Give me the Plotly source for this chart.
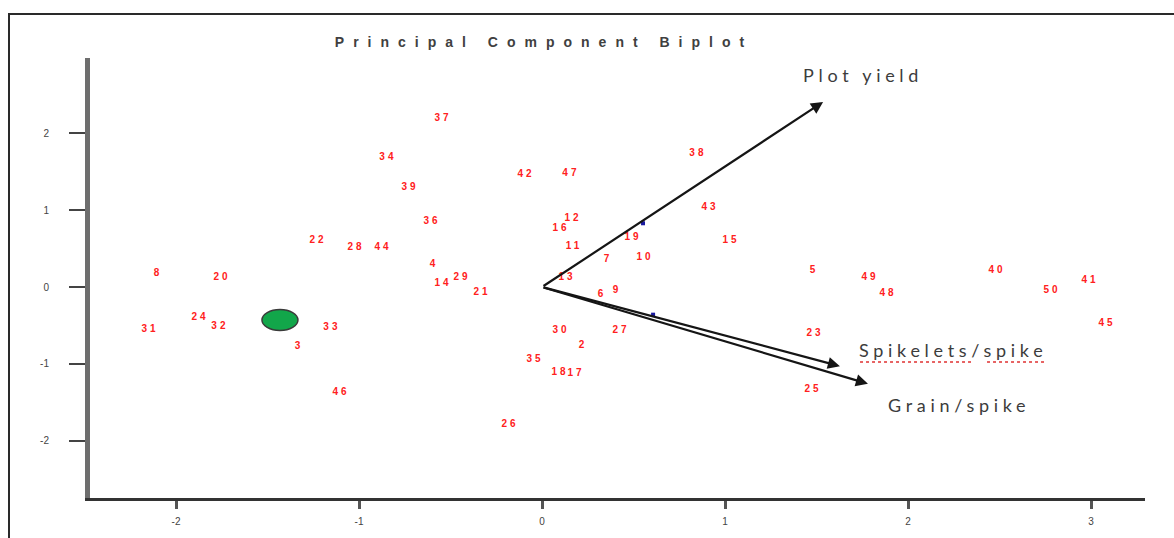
import plotly.graph_objects as go

# ---------------- data ----------------
obs_labels = ["37", "34", "39", "36", "42", "47", "38", "43", "12", "16",
              "11", "19", "15", "7", "10", "4", "29", "14", "21", "13",
              "9", "6", "30", "27", "2", "35", "18", "17", "26", "8",
              "20", "24", "32", "31", "33", "3", "46", "22", "28", "44",
              "5", "49", "40", "41", "48", "50", "45", "23", "25"]
obs_pc1 = [-0.541, -0.842, -0.721, -0.601, -0.087, 0.158, 0.852, 0.918, 0.169, 0.104,
           0.175, 0.497, 1.033, 0.361, 0.563, -0.590, -0.437, -0.541, -0.328, 0.137,
           0.410, 0.328, 0.104, 0.432, 0.224, -0.038, 0.098, 0.186, -0.175, -2.098,
           -1.749, -1.869, -1.760, -2.142, -1.148, -1.328, -1.098, -1.224, -1.016, -0.869,
           1.486, 1.792, 2.486, 2.995, 1.891, 2.787, 3.087, 1.492, 1.481]
obs_pc2 = [2.20, 1.69, 1.29, 0.85, 1.46, 1.48, 1.74, 1.04, 0.89, 0.76,
           0.53, 0.65, 0.60, 0.36, 0.38, 0.29, 0.13, 0.05, -0.07, 0.12,
           -0.04, -0.10, -0.56, -0.56, -0.76, -0.95, -1.11, -1.13, -1.79, 0.17,
           0.13, -0.40, -0.52, -0.55, -0.53, -0.77, -1.37, 0.60, 0.51, 0.51,
           0.22, 0.13, 0.21, 0.09, -0.09, -0.05, -0.47, -0.61, -1.34]

var_names = ["Plot yield", "Spikelets/spike", "Grain/spike"]
var_pc1 = [1.536, 1.628, 1.781]
var_pc2 = [2.41, -1.03, -1.26]
var_label_pc1 = [1.754, 2.246, 2.279]
var_label_pc2 = [2.76, -0.82, -1.54]

mark_pc1 = [0.552, 0.607]
mark_pc2 = [0.83, -0.36]

centroid_pc1 = [-1.432]
centroid_pc2 = [-0.43]

x_ticks = [-2, -1, 0, 1, 2, 3]
y_ticks = [-2, -1, 0, 1, 2]
x_range = [-2.47, 3.295]
y_range = [-2.747, 2.982]

title_text = "Principal Component Biplot"

# ---------------- layout geometry ----------------
W, H = 1174, 538
ML, MR, MT, MB = 90, 29, 58, 40
PW, PH = W - ML - MR, H - MT - MB
ux = PW / (x_range[1] - x_range[0])   # px per x unit
uy = PH / (y_range[1] - y_range[0])   # px per y unit

fig = go.Figure()

# observation labels
fig.add_trace(go.Scatter(
    x=obs_pc1, y=obs_pc2, mode="text",
    text=['<span style="letter-spacing:3px"><b>%s</b></span>' % t for t in obs_labels],
    textposition="middle center",
    textfont=dict(family="Arial", size=10, color="#ff2020"),
    hoverinfo="skip", showlegend=False))

# small blue marks on the arrows
fig.add_trace(go.Scatter(
    x=mark_pc1, y=mark_pc2, mode="markers",
    marker=dict(symbol="square", size=4, color="#1a1aa0"),
    hoverinfo="skip", showlegend=False))

annotations = []
# loading arrows
for xv, yv in zip(var_pc1, var_pc2):
    annotations.append(dict(
        x=xv, y=yv, ax=0, ay=0, xref="x", yref="y", axref="x", ayref="y",
        text="", showarrow=True, arrowhead=2, arrowsize=1.1, arrowwidth=2.2,
        arrowcolor="#151515", standoff=0, startstandoff=0))
# variable names
for name, xv, yv in zip(var_names, var_label_pc1, var_label_pc2):
    annotations.append(dict(
        x=xv, y=yv, xref="x", yref="y",
        text='<span style="letter-spacing:4.7px">%s</span>' % name,
        showarrow=False, xanchor="center", yanchor="middle",
        font=dict(family="Lato", size=18, color="#3c3c3c")))

shapes = []
# green centroid ellipse
cw, ch = 36 / ux, 21 / uy
shapes.append(dict(type="circle", xref="x", yref="y",
                   x0=centroid_pc1[0] - cw / 2, x1=centroid_pc1[0] + cw / 2,
                   y0=centroid_pc2[0] - ch / 2, y1=centroid_pc2[0] + ch / 2,
                   fillcolor="#12a64a", line=dict(color="#3a3a3a", width=1.5)))

# spell-check style underline under "Spikelets/spike"
sx, sy = var_label_pc1[1], var_label_pc2[1] - 12 / uy
for a, b in [(-93, 20), (34, 94)]:
    shapes.append(dict(type="line", xref="x", yref="y",
                       x0=sx + a / ux, x1=sx + b / ux, y0=sy, y1=sy,
                       line=dict(color="#e03030", width=1.5, dash="dot")))

# outer frame (top and left edges)
def px_to_paper_x(px):
    return (px - ML) / PW

def px_to_paper_y(py):
    return (H - MB - py) / PH

shapes.append(dict(type="line", xref="paper", yref="paper",
                   x0=px_to_paper_x(8), x1=px_to_paper_x(W + 2),
                   y0=px_to_paper_y(14), y1=px_to_paper_y(14),
                   line=dict(color="#2a2a2a", width=2)))
shapes.append(dict(type="line", xref="paper", yref="paper",
                   x0=px_to_paper_x(9), x1=px_to_paper_x(9),
                   y0=px_to_paper_y(14), y1=px_to_paper_y(H + 2),
                   line=dict(color="#2a2a2a", width=2)))

fig.update_layout(
    width=W, height=H,
    margin=dict(l=ML, r=MR, t=MT, b=MB, pad=0),
    paper_bgcolor="white", plot_bgcolor="white",
    title=dict(text='<span style="letter-spacing:9px"><b>%s</b></span>' % title_text,
               x=544 / W, xanchor="center", xref="container",
               y=1 - 42 / H, yanchor="middle", yref="container",
               font=dict(family="Arial", size=14, color="#404040")),
    annotations=annotations, shapes=shapes, showlegend=False,
)

fig.update_xaxes(range=x_range, tickvals=x_ticks, ticktext=[str(v) for v in x_ticks],
                 showgrid=False, zeroline=False, showline=True, linewidth=2.5,
                 linecolor="#333333", ticks="outside", ticklen=8, tickwidth=3,
                 tickcolor="#555555", ticklabelstandoff=4,
                 tickfont=dict(family="Arial", size=10, color="#444444"))
fig.update_yaxes(range=y_range, tickvals=y_ticks, ticktext=[str(v) for v in y_ticks],
                 showgrid=False, zeroline=False, showline=True, linewidth=5,
                 linecolor="#6e6e6e", ticks="outside", ticklen=16, tickwidth=2,
                 tickcolor="#444444", ticklabelstandoff=18,
                 tickfont=dict(family="Arial", size=10, color="#444444"))

fig.write_html("out.html")
